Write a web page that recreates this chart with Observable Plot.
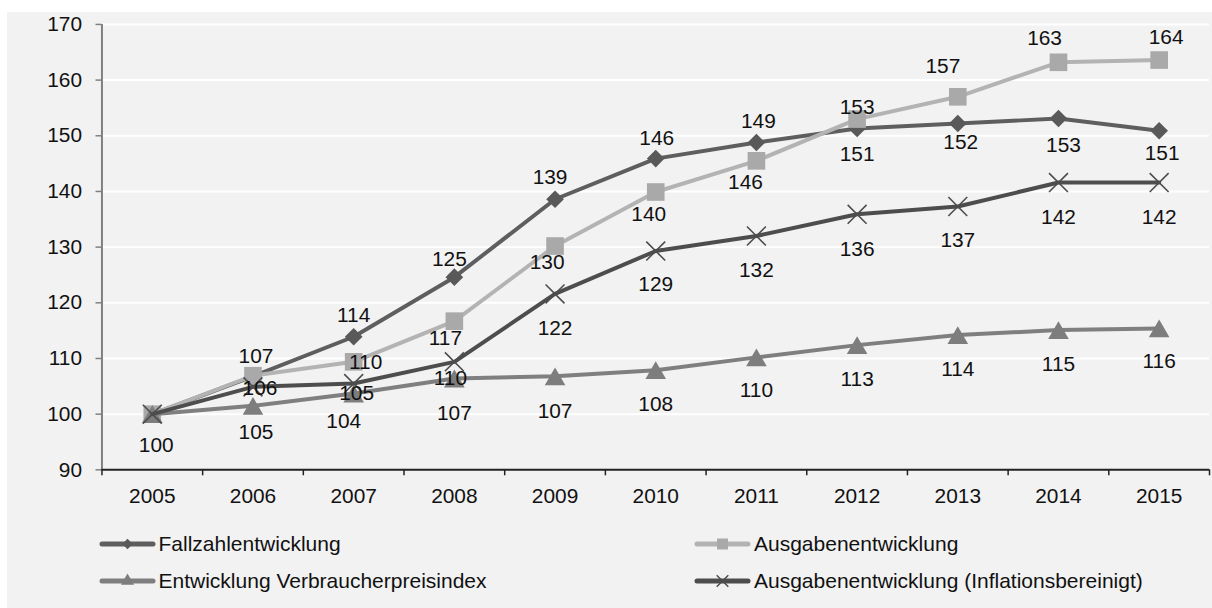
<!DOCTYPE html>
<html><head><meta charset="utf-8">
<script src="https://cdn.jsdelivr.net/npm/d3@7"></script>
<script src="https://cdn.jsdelivr.net/npm/@observablehq/plot@0.6"></script>
<style>
html,body{margin:0;padding:0;background:#fff;width:1212px;height:608px;overflow:hidden;font-family:"Liberation Sans",Arial,sans-serif;}
#panel{position:absolute;left:7px;top:12px;width:1205px;height:596px;background:#f2f2f2;overflow:hidden;}
#chart{position:absolute;left:0;top:0;}
.leg{position:absolute;height:24px;width:700px;}
.leg svg{position:absolute;left:0;top:0;overflow:visible;}
.leg span{position:absolute;top:0;line-height:24px;font-size:21px;color:#111;white-space:nowrap;}
</style></head><body>
<div id="panel"><div id="chart"></div><div id="legend"></div></div>
<script>
// ---- data ----
const years = [2005, 2006, 2007, 2008, 2009, 2010, 2011, 2012, 2013, 2014, 2015];
const seriesNames = ["Fallzahlentwicklung", "Ausgabenentwicklung", "Entwicklung Verbraucherpreisindex", "Ausgabenentwicklung (Inflationsbereinigt)"];
const fallzahl  = [100, 106.8, 113.9, 124.6, 138.6, 145.9, 148.8, 151.3, 152.2, 153.1, 150.9];
const ausgaben  = [100, 106.9, 109.4, 116.7, 130.2, 139.9, 145.5, 153.0, 157.0, 163.2, 163.6];
const vpi       = [100, 101.5, 103.7, 106.4, 106.8, 107.9, 110.2, 112.4, 114.2, 115.1, 115.4];
const inflation = [100, 104.9, 105.5, 109.4, 121.6, 129.3, 132.0, 135.9, 137.3, 141.6, 141.6];
// data labels as printed in the chart
const fallzahlLabels  = [null, "107", "114", "125", "139", "146", "149", "151", "152", "153", "151"];
const ausgabenLabels  = [null, "106", "110", "117", "130", "140", "146", "153", "157", "163", "164"];
const vpiLabels       = ["100", null, "104", "107", "107", "108", "110", "113", "114", "115", "116"];
const inflationLabels = [null, "105", "105", "110", "122", "129", "132", "136", "137", "142", "142"];
const yTicks = [90, 100, 110, 120, 130, 140, 150, 160, 170];

// ---- label placement (pixel offsets, layout only) ----
const fallzahlDx = [0, 3, 0, -5, -5, 1, 2, 0, 3, 5, 3];
const fallzahlDy = [0, -20, -22, -18, -22, -20, -21, 26, 19, 27, 23];
const ausgabenDx = [0, 7, 12, -9, -8, -7, -11, 0, -15, -14, 7];
const ausgabenDy = [0, 13, 0, 17, 16, 22, 22, -12, -31, -24, -23];
const vpiDx = [4, 0, -10, 0, 0, 0, 0, 0, 0, 0, 0];
const vpiDy = [31, 0, 28, 35, 35, 34, 33, 34, 34, 34, 33];
const inflationDx = [0, 3, 3, -4, 0, 0, 0, 0, 0, 0, 0];
const inflationDy = [0, 46, 10, 17, 35, 33, 35, 35, 34, 35, 35];

// ---- styles ----
const colors = {fall: "#5e5e5e", aus: "#adadad", vpi: "#7f7f7f", inf: "#4d4d4d"};

const rows = v => years.map((year, i) => ({year, value: v[i]}));

function labelMarks(values, labels, dxs, dys) {
  const out = [];
  years.forEach((year, i) => {
    if (labels[i] == null) return;
    out.push(Plot.text([{year, value: values[i], label: labels[i]}],
      {x: "year", y: "value", text: "label", dx: dxs[i], dy: dys[i], fill: "#111", fontSize: 21}));
  });
  return out;
}

const boundaries = years.map(y => y - 0.5).concat([years[years.length - 1] + 0.5]);

const chart = Plot.plot({
  width: 1212,
  height: 510,
  marginLeft: 95,
  marginRight: 3,
  marginTop: 12,
  marginBottom: 50,
  style: {background: "transparent", fontSize: "21px", fontFamily: "'Liberation Sans', Arial, sans-serif", color: "#111", overflow: "visible"},
  x: {domain: [2004.5, 2015.5]},
  y: {domain: [90, 170]},
  marks: [
    Plot.gridY(yTicks.slice(1), {stroke: "#ffffff", strokeOpacity: 1, strokeWidth: 2}),
    Plot.axisY(yTicks, {tickSize: 6, tickPadding: 14, stroke: "#808080", strokeWidth: 1.5, label: null}),
    Plot.axisX(boundaries, {tickSize: 6, tickFormat: () => "", stroke: "#222", strokeWidth: 1.5, label: null}),
    Plot.axisX(years, {tickSize: 0, tickPadding: 18, tickFormat: d => String(d), label: null}),
    Plot.ruleX([2004.5], {stroke: "#808080", strokeWidth: 2}),
    Plot.ruleY([90], {stroke: "#222", strokeWidth: 2}),
    // Fallzahlentwicklung
    Plot.line(rows(fallzahl), {x: "year", y: "value", stroke: colors.fall, strokeWidth: 4, strokeLinejoin: "round"}),
    Plot.dot(rows(fallzahl), {x: "year", y: "value", symbol: "diamond2", r: 8, fill: "#595959"}),
    // Ausgabenentwicklung
    Plot.line(rows(ausgaben), {x: "year", y: "value", stroke: "#b3b3b3", strokeWidth: 4, strokeLinejoin: "round"}),
    Plot.dot(rows(ausgaben), {x: "year", y: "value", symbol: "square", r: 10, fill: "#a9a9a9"}),
    // Verbraucherpreisindex
    Plot.line(rows(vpi), {x: "year", y: "value", stroke: colors.vpi, strokeWidth: 4, strokeLinejoin: "round"}),
    Plot.dot(rows(vpi), {x: "year", y: "value", symbol: "triangle", r: 7.7, dy: 3, fill: "#7d7d7d"}),
    // Inflationsbereinigt
    Plot.line(rows(inflation), {x: "year", y: "value", stroke: colors.inf, strokeWidth: 4, strokeLinejoin: "round"}),
    Plot.dot(rows(inflation), {x: "year", y: "value", symbol: "times", r: 8.7, stroke: "#4d4d4d", strokeWidth: 1.6}),
    ...labelMarks(fallzahl, fallzahlLabels, fallzahlDx, fallzahlDy),
    ...labelMarks(ausgaben, ausgabenLabels, ausgabenDx, ausgabenDy),
    ...labelMarks(vpi, vpiLabels, vpiDx, vpiDy),
    ...labelMarks(inflation, inflationLabels, inflationDx, inflationDy)
  ]
});
document.getElementById("chart").appendChild(chart);

// ---- legend ----
const legendItems = [
  {name: seriesNames[0], line: colors.fall, sym: d3.symbolDiamond2, size: 70, fill: "#595959", stroke: null, left: 92, top: 520},
  {name: seriesNames[1], line: "#b3b3b3", sym: d3.symbolSquare, size: 120, fill: "#a9a9a9", stroke: null, left: 687, top: 520},
  {name: seriesNames[2], line: colors.vpi, sym: d3.symbolTriangle, size: 75, fill: "#7d7d7d", stroke: null, left: 92, top: 557},
  {name: seriesNames[3], line: colors.inf, sym: d3.symbolTimes, size: 90, fill: "none", stroke: "#4d4d4d", left: 687, top: 557}
];
const legend = document.getElementById("legend");
legendItems.forEach(it => {
  const div = document.createElement("div");
  div.className = "leg";
  div.style.left = it.left + "px";
  div.style.top = it.top + "px";
  const path = d3.symbol(it.sym, it.size)();
  div.innerHTML = `<svg width="60" height="24">
    <line x1="3" x2="54" y1="12" y2="12" stroke="${it.line}" stroke-width="5" stroke-linecap="round"/>
    <path transform="translate(28.5,12)" d="${path}" fill="${it.fill}" ${it.stroke ? `stroke="${it.stroke}" stroke-width="1.5"` : ""}/>
  </svg><span style="left:${it.left === 92 ? 59.5 : 60}px">${it.name}</span>`;
  legend.appendChild(div);
});
</script>
</body></html>
